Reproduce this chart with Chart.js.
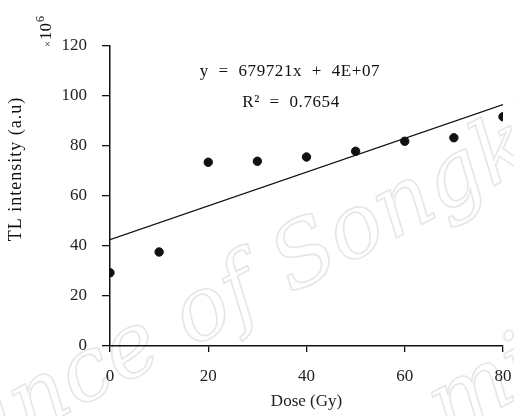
<!DOCTYPE html>
<html>
<head>
<meta charset="utf-8">
<script src="https://cdn.jsdelivr.net/npm/chart.js@4/dist/chart.umd.min.js"></script>
<style>
  html, body { margin: 0; padding: 0; background: #fff; }
  #wrap { width: 514px; height: 416px; }
</style>
</head>
<body>
<div id="wrap"><canvas id="tlChart" width="514" height="416"></canvas></div>
<script>
// values (y in units of 10^6)
const doses = [0, 10, 20, 30, 40, 50, 60, 70, 80];
const tlIntensity = [29.3, 37.6, 73.5, 73.9, 75.6, 77.9, 81.9, 83.3, 91.7];
const trendX = [0, 80];
const trendY = [42.5, 96.6];
const yTicks = [0, 20, 40, 60, 80, 100, 120];
const xTicks = [0, 20, 40, 60, 80];
const equationText = 'y  =  679721x  +  4E+07';
const r2Text = 'R\u00b2  =  0.7654';

const serif = '"Liberation Serif", "DejaVu Serif", serif';

// faint watermark + annotations drawn on the canvas
const extrasPlugin = {
    id: 'extras',
    beforeDraw(chart) {
        const ctx = chart.ctx;
        const marks = [['Prince of Songkla', 250, 290], ['mi', 485, 390]];
        marks.forEach(([txt, cx, cy]) => {
            ctx.save();
            ctx.strokeStyle = '#e6e6e6';
            ctx.lineWidth = 1.6;
            ctx.textAlign = 'center';
            ctx.textBaseline = 'middle';
            ctx.font = 'italic 88px "DejaVu Serif", serif';
            ctx.translate(cx, cy);
            ctx.rotate(-0.49);
            ctx.strokeText(txt, 0, 0);
            ctx.restore();
        });
    },
    afterDraw(chart) {
        const ctx = chart.ctx;
        ctx.save();
        ctx.fillStyle = '#111';
        ctx.textAlign = 'center';
        ctx.textBaseline = 'middle';
        ctx.font = '17px ' + serif;
        ctx.letterSpacing = '0.6px';
        ctx.fillText(equationText, 290, 72);
        ctx.fillText(r2Text, 291, 103);

        // y axis title
        ctx.save();
        ctx.translate(16, 169);
        ctx.rotate(-Math.PI / 2);
        ctx.font = '18px ' + serif;
        ctx.letterSpacing = '1px';
        ctx.fillText('TL intensity (a.u)', 0, 0);
        ctx.restore();
        ctx.letterSpacing = '0px';

        // x10^6 multiplier
        ctx.save();
        ctx.translate(46, 47);
        ctx.rotate(-Math.PI / 2);
        ctx.textAlign = 'left';
        ctx.font = '11px ' + serif;
        ctx.fillText('\u00d7', 0, 2);
        ctx.font = '17px ' + serif;
        ctx.fillText('10', 7, 1);
        ctx.font = '12px ' + serif;
        ctx.fillText('6', 25, -5);
        ctx.restore();
        ctx.restore();
    }
};

const ctx = document.getElementById('tlChart');
new Chart(ctx, {
    type: 'scatter',
    data: {
        datasets: [
            {
                label: 'TL',
                data: doses.map((d, i) => ({ x: d, y: tlIntensity[i] })),
                backgroundColor: '#111',
                borderColor: '#111',
                pointRadius: 4.2,
                pointHoverRadius: 4.2,
                showLine: false
            },
            {
                label: 'Trend',
                data: trendX.map((d, i) => ({ x: d, y: trendY[i] })),
                borderColor: '#111',
                borderWidth: 1.2,
                pointRadius: 0,
                showLine: true,
                fill: false
            }
        ]
    },
    plugins: [extrasPlugin],
    options: {
        responsive: false,
        animation: false,
        layout: { padding: { top: 46, right: 11, left: 0, bottom: 0 } },
        plugins: {
            legend: { display: false },
            tooltip: { enabled: false }
        },
        scales: {
            x: {
                type: 'linear',
                min: 0,
                max: 80,
                afterFit(scale) {
                    scale.height = 70;
                    scale.paddingLeft = 0;
                    scale.paddingRight = 0;
                },
                afterBuildTicks(scale) { scale.ticks = xTicks.map(v => ({ value: v })); },
                grid: { drawOnChartArea: false, drawTicks: true, tickLength: 6, color: '#111', lineWidth: 1.3 },
                border: { display: true, color: '#111', width: 1.5 },
                ticks: { color: '#222', padding: 14, maxRotation: 0, font: { family: serif, size: 17 } },
                title: {
                    display: true,
                    text: 'Dose (Gy)',
                    color: '#222',
                    font: { family: serif, size: 17 },
                    padding: { top: 0 }
                }
            },
            y: {
                type: 'linear',
                min: 0,
                max: 120,
                afterFit(scale) {
                    scale.width = 110;
                    scale.paddingTop = 0;
                    scale.paddingBottom = 0;
                },
                afterBuildTicks(scale) { scale.ticks = yTicks.map(v => ({ value: v })); },
                grid: { drawOnChartArea: false, drawTicks: true, tickLength: 8, color: '#111', lineWidth: 1.3 },
                border: { display: true, color: '#111', width: 1.5 },
                ticks: { color: '#222', padding: 15, font: { family: serif, size: 17 } }
            }
        }
    }
});
</script>
</body>
</html>
